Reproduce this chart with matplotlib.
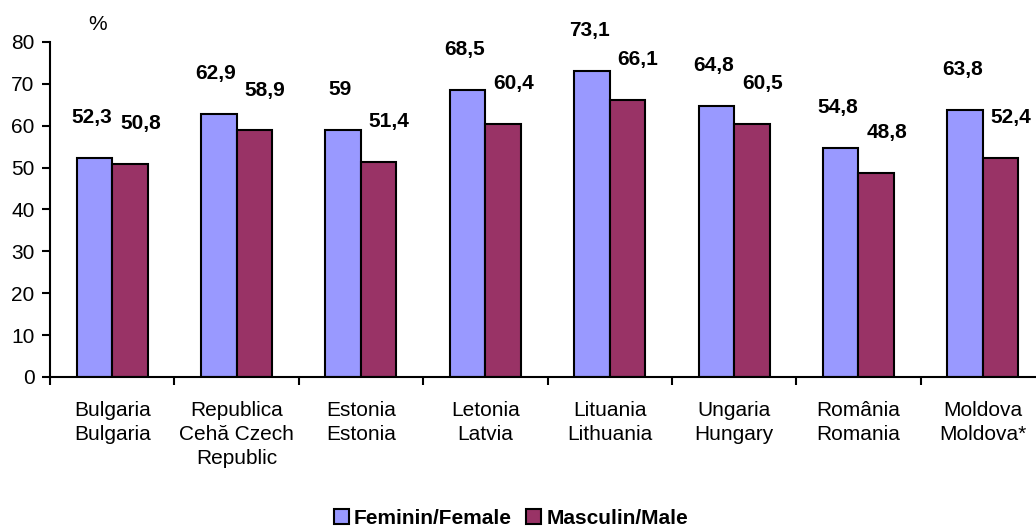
import matplotlib
matplotlib.use("Agg")
import matplotlib.pyplot as plt
import numpy as np

plt.rcParams['font.family'] = ['Liberation Sans', 'DejaVu Sans']

categories = ["Bulgaria\nBulgaria", "Republica\nCehă Czech\nRepublic", "Estonia\nEstonia",
              "Letonia\nLatvia", "Lituania\nLithuania", "Ungaria\nHungary",
              "România\nRomania", "Moldova\nMoldova*"]
female = [52.3, 62.9, 59, 68.5, 73.1, 64.8, 54.8, 63.8]
male = [50.8, 58.9, 51.4, 60.4, 66.1, 60.5, 48.8, 52.4]
female_lbl = ["52,3", "62,9", "59", "68,5", "73,1", "64,8", "54,8", "63,8"]
male_lbl = ["50,8", "58,9", "51,4", "60,4", "66,1", "60,5", "48,8", "52,4"]

fs = 15

fig = plt.figure(figsize=(10.36, 5.28), dpi=100)
ax = fig.add_axes([50/1036, 151/528, 995/1036, 335/528])

x = np.arange(len(categories))
w = 0.285
ax.bar(x - w/2, female, w, color='#9999FF', edgecolor='black', linewidth=1.5, label='Feminin/Female')
ax.bar(x + w/2, male, w, color='#993366', edgecolor='black', linewidth=1.5, label='Masculin/Male')

for i in range(len(x)):
    ax.annotate(female_lbl[i], (x[i] - w/2, female[i]), xytext=(-2, 29), textcoords='offset points',
                ha='center', va='center', fontsize=fs, fontweight='bold')
    ax.annotate(male_lbl[i], (x[i] + w/2, male[i]), xytext=(7.5, 29), textcoords='offset points',
                ha='center', va='center', fontsize=fs, fontweight='bold')

ax.set_xlim(-0.5, 7.5)
ax.set_ylim(0, 80)
ax.set_yticks(range(0, 81, 10))
ax.set_xticks(np.arange(-0.5, 8, 1))
ax.set_xticklabels([])
ax.set_xticks(x, minor=True)
ax.set_xticklabels(categories, minor=True, fontsize=fs, linespacing=1.35)
ax.tick_params(axis='x', which='minor', length=0, pad=17)
ax.tick_params(axis='x', which='major', length=6, width=1.5, direction='out')
ax.tick_params(axis='y', length=6, width=1.5, labelsize=fs, pad=5)
ax.spines['top'].set_visible(False)
ax.spines['right'].set_visible(False)
ax.spines['left'].set_linewidth(1.5)
ax.spines['bottom'].set_linewidth(1.5)

fig.text(98/1036, 1 - 24/528, "%", fontsize=fs, ha='center', va='center')

fig.legend(loc='center', bbox_to_anchor=(511/1036, 1 - 518/528), ncol=2, frameon=False,
           prop={'weight': 'bold', 'size': fs}, handlelength=0.7, handleheight=0.7,
           handletextpad=0.25, columnspacing=0.7)

fig.savefig("out.png", dpi=100)
